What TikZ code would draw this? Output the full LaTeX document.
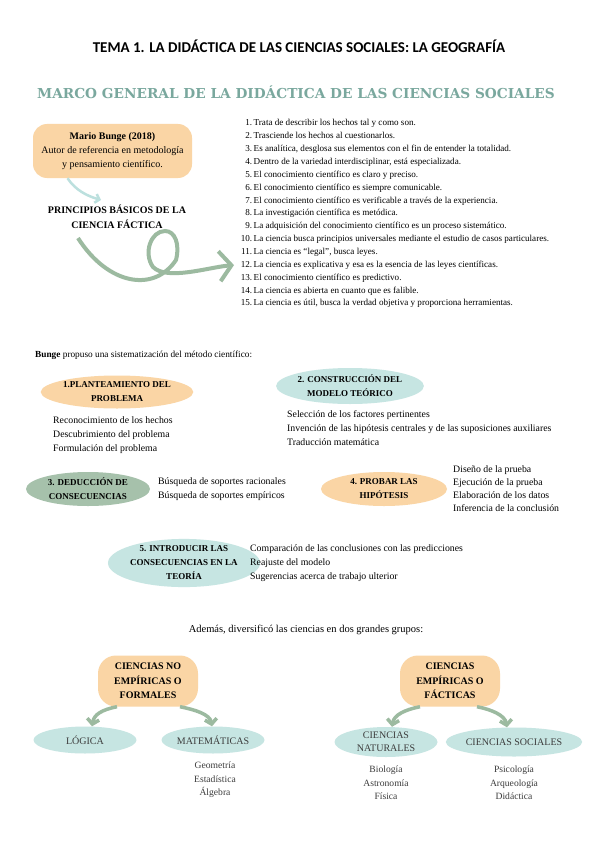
\documentclass[tikz,border=0pt]{standalone}
\usepackage{fontspec}
\setmainfont{Liberation Serif}
\newfontfamily\headfont{Carlito}
\newfontfamily\markfont{DejaVu Serif}
\usetikzlibrary{shapes.geometric,arrows.meta}
\definecolor{peach}{RGB}{250,213,165}
\definecolor{aqua}{RGB}{198,229,226}
\definecolor{sage}{RGB}{166,193,171}
\definecolor{leaf}{RGB}{156,186,160}
\definecolor{mist}{RGB}{188,224,222}
\definecolor{marco}{RGB}{122,168,158}
\definecolor{ink}{RGB}{60,60,60}
\tikzset{
  item/.style={anchor=base west, inner sep=0pt, font=\fontsize{9.1}{10}\selectfont},
  stage/.style={ellipse, inner sep=0pt, minimum width=126pt, minimum height=34pt, align=center, font=\fontsize{9}{14}\selectfont\bfseries},
  sub/.style={anchor=west, inner sep=0pt, align=left, font=\fontsize{9.8}{13.7}\selectfont},
  group/.style={rounded corners=18pt, fill=peach, minimum width=100pt, minimum height=51pt, inner sep=0pt, align=center, font=\fontsize{10}{14.5}\selectfont\bfseries},
  branch/.style={ellipse, fill=aqua, minimum width=103pt, minimum height=27pt, inner sep=0pt, align=center, text=ink, font=\fontsize{10}{13}\selectfont},
  leaves/.style={inner sep=0pt, align=center, text=ink, font=\fontsize{9.6}{13.5}\selectfont},
  twig/.style={draw=leaf, line width=3.5pt, -{Straight Barb[length=5pt,width=12pt]}}
}
\begin{document}
\begin{tikzpicture}[x=1pt,y=-1pt]
\fill[white] (0,0) rectangle (599,848);
\useasboundingbox (0,0) rectangle (599,848);
% titulos
\node[font=\headfont\bfseries\fontsize{15}{17}\selectfont] (tema) at (299,46) {TEMA 1. LA DIDÁCTICA DE LAS CIENCIAS SOCIALES: LA GEOGRAFÍA};
\node[text=marco, font=\markfont\bfseries\fontsize{13.7}{15}\selectfont] (marco) at (296,92) {MARCO GENERAL DE LA DIDÁCTICA DE LAS CIENCIAS SOCIALES};
% principios
\node[rounded corners=14pt, fill=peach, minimum width=159pt, minimum height=54pt, inner sep=0pt, align=center, font=\fontsize{10}{14}\selectfont] (bunge) at (112.5,151) {\textbf{Mario Bunge (2018)}\\Autor de referencia en metodología\\y pensamiento científico.};
\node[align=center, inner sep=0pt, font=\fontsize{10}{15}\selectfont\bfseries] (principios) at (117,217) {PRINCIPIOS BÁSICOS DE LA\\CIENCIA FÁCTICA};
\foreach \n/\t in {1/{Trata de describir los hechos tal y como son.},
  2/{Trasciende los hechos al cuestionarlos.},
  3/{Es analítica, desglosa sus elementos con el fin de entender la totalidad.},
  4/{Dentro de la variedad interdisciplinar, está especializada.},
  5/{El conocimiento científico es claro y preciso.},
  6/{El conocimiento científico es siempre comunicable.},
  7/{El conocimiento científico es verificable a través de la experiencia.},
  8/{La investigación científica es metódica.},
  9/{La adquisición del conocimiento científico es un proceso sistemático.},
  10/{La ciencia busca principios universales mediante el estudio de casos particulares.},
  11/{La ciencia es “legal”, busca leyes.},
  12/{La ciencia es explicativa y esa es la esencia de las leyes científicas.},
  13/{El conocimiento científico es predictivo.},
  14/{La ciencia es abierta en cuanto que es falible.},
  15/{La ciencia es útil, busca la verdad objetiva y proporciona herramientas.}}
  {\node[item] (p\n) at (240,{113+12.86*\n}) {\makebox[12pt][r]{\n.}\,\t};}
\draw[draw=mist, line width=2.5pt, -{Straight Barb[length=4pt,width=9pt]}] ([xshift=-45pt]bunge.south) .. controls +(8,12) and +(-14,-4) .. ([xshift=-16pt,yshift=5pt]principios.north);
\coordinate (loop) at (165,231);
\draw[draw=leaf, line width=4pt, -{Straight Barb[length=12pt,width=30pt]}] ([shift={(-39,9)}]principios.south) .. controls +(30,47) and +(-22,33) .. (176,260) .. controls +(4,-16) and +(10,0) .. (loop) .. controls +(-14,0) and +(-10,-14) .. (153,267) .. controls +(14,14) and +(-25,2) .. ([xshift=-6pt]p12.west);
% metodo
\node[anchor=west, inner sep=0pt, font=\fontsize{9.3}{10}\selectfont] (bunge2) at (35,355) {\textbf{Bunge} propuso una sistematización del método científico:};
\node[stage, fill=peach, minimum height=33pt] (s1) at (117,392) {1.PLANTEAMIENTO DEL\\PROBLEMA};
\node[sub] (t1) at (53,435) {Reconocimiento de los hechos\\Descubrimiento del problema\\Formulación del problema};
\node[stage, fill=aqua, minimum height=36pt] (s2) at (350,386) {2. CONSTRUCCIÓN DEL\\MODELO TEÓRICO};
\node[sub] (t2) at (287,428) {Selección de los factores pertinentes\\Invención de las hipótesis centrales y de las suposiciones auxiliares\\Traducción matemática};
\node[stage, fill=sage, minimum width=124pt] (s3) at (88,489) {3. DEDUCCIÓN DE\\CONSECUENCIAS};
\node[sub] (t3) at (158,489) {Búsqueda de soportes racionales\\Búsqueda de soportes empíricos};
\node[stage, fill=peach] (s4) at (384,489) {4. PROBAR LAS\\HIPÓTESIS};
\node[sub, font=\fontsize{9.8}{13}\selectfont] (t4) at (453,488.5) {Diseño de la prueba\\Ejecución de la prueba\\Elaboración de los datos\\Inferencia de la conclusión};
\node[stage, fill=aqua, minimum width=128pt, minimum height=46pt] (s5) at (184,563) {5. INTRODUCIR LAS\\CONSECUENCIAS EN LA\\TEORÍA};
\node[sub] (t5) at (250,563) {Comparación de las conclusiones con las predicciones\\Reajuste del modelo\\Sugerencias acerca de trabajo ulterior};
% grupos
\node[font=\fontsize{10.5}{12}\selectfont] (ademas) at (306,630) {Además, diversificó las ciencias en dos grandes grupos:};
\node[group] (formales) at (148,681) {CIENCIAS NO\\EMPÍRICAS O\\FORMALES};
\node[branch] (logica) at (85,740) {LÓGICA};
\node[branch] (matem) at (213,740) {MATEMÁTICAS};
\node[leaves] (mlist) at (215,780) {Geometría\\Estadística\\Álgebra};
\node[group] (empiricas) at (450,681) {CIENCIAS\\EMPÍRICAS O\\FÁCTICAS};
\node[branch, minimum height=30pt] (naturales) at (386,742) {CIENCIAS\\NATURALES};
\node[branch, minimum height=29pt] (sociales) at (514,742) {CIENCIAS SOCIALES};
\node[leaves] (nlist) at (386,783) {Biología\\Astronomía\\Física};
\node[leaves] (slist) at (514,783) {Psicología\\Arqueología\\Didáctica};
\draw[twig] ([xshift=-31pt]formales.south) .. controls +(-15,3) and +(2,-12) .. ([xshift=7pt]logica.north);
\draw[twig] ([xshift=32pt]formales.south) .. controls +(15,3) and +(-2,-12) .. ([xshift=-1pt]matem.north);
\draw[twig] ([xshift=-30pt]empiricas.south) .. controls +(-15,3) and +(2,-12) .. ([xshift=6pt]naturales.north);
\draw[twig] ([xshift=27pt]empiricas.south) .. controls +(15,3) and +(-2,-12) .. ([xshift=-7pt]sociales.north);
\end{tikzpicture}
\end{document}
